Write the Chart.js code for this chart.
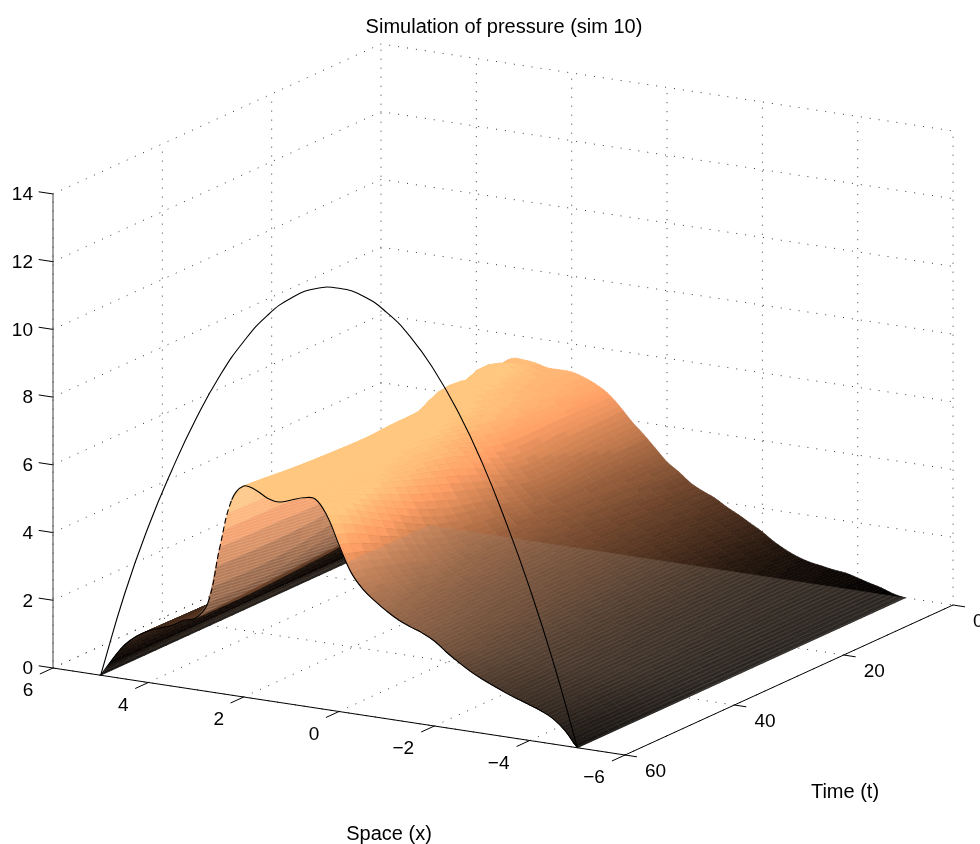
<!DOCTYPE html>
<html>
<head>
<meta charset="utf-8">
<title>Simulation of pressure</title>
<script src="https://cdn.jsdelivr.net/npm/chart.js@4"></script>
<style>
  html, body { margin: 0; padding: 0; background: #fff; overflow: hidden; }
  canvas { display: block; }
</style>
</head>
<body>
<canvas id="pressureChart" width="980" height="844"></canvas>
<script>
// Axis ticks
const spaceTicks = [6, 4, 2, 0, -2, -4, -6];
const timeTicks = [0, 20, 40, 60];
const pressureTicks = [0, 2, 4, 6, 8, 10, 12, 14];

// Surface samples
const spaceValues = [5, 4.75, 4.5, 4.25, 4, 3.75, 3.5, 3.25, 3, 2.75, 2.5, 2.25, 2, 1.75, 1.5, 1.25, 1, 0.75, 0.5, 0.25, 0,
  -0.25, -0.5, -0.75, -1, -1.25, -1.5, -1.75, -2, -2.25, -2.5, -2.75, -3, -3.25, -3.5, -3.75, -4, -4.25, -4.5, -4.75, -5];
const pressureT0 = [0, 0.6, 1.2, 1.9, 2.9, 4.1, 5.0, 5.3, 5.31, 5.27, 5.18, 5.18, 5.17, 5.07, 4.92, 4.71, 4.38, 3.99, 3.66, 3.3, 2.94,
  2.7, 2.42, 2.24, 2.09, 1.88, 1.7, 1.5, 1.3, 1.06, 0.87, 0.72, 0.62, 0.56, 0.5, 0.46, 0.37, 0.27, 0.18, 0.06, 0];
const pressureT10 = [0, 0.55, 1.1, 1.65, 2.3, 3.1, 4.0, 4.9, 5.5, 5.85, 5.7, 5.4, 5.25, 5.2, 5.05, 4.77, 4.37, 3.97, 3.63, 3.3, 3.0,
  2.78, 2.53, 2.35, 2.2, 2.01, 1.85, 1.66, 1.47, 1.25, 1.05, 0.9, 0.77, 0.69, 0.61, 0.55, 0.46, 0.35, 0.24, 0.09, 0];
const pressureT20 = [0, 0.5, 1.0, 1.4, 1.72, 2.0, 2.3, 2.8, 3.6, 4.9, 5.95, 5.85, 5.7, 5.5, 5.25, 4.85, 4.35, 3.95, 3.6, 3.3, 3.05,
  2.85, 2.65, 2.47, 2.32, 2.15, 2.0, 1.82, 1.65, 1.45, 1.25, 1.08, 0.93, 0.82, 0.72, 0.65, 0.55, 0.43, 0.3, 0.13, 0];
const pressureT30 = [0, 0.48, 0.95, 1.32, 1.6, 1.8, 1.95, 2.15, 2.5, 3.3, 4.8, 5.8, 5.9, 5.75, 5.55, 5.35, 5.1, 4.6, 4.05, 3.62, 3.27,
  3.02, 2.8, 2.62, 2.46, 2.31, 2.17, 2.0, 1.84, 1.64, 1.44, 1.26, 1.1, 0.98, 0.88, 0.79, 0.69, 0.57, 0.42, 0.2, 0];
const pressureT40 = [0, 0.45, 0.9, 1.25, 1.5, 1.68, 1.82, 2.0, 2.25, 2.9, 4.3, 5.6, 6.0, 5.9, 5.7, 5.55, 5.45, 5.2, 4.6, 4.0, 3.5,
  3.2, 2.97, 2.78, 2.62, 2.48, 2.35, 2.2, 2.05, 1.85, 1.65, 1.47, 1.3, 1.17, 1.05, 0.95, 0.84, 0.72, 0.55, 0.3, 0];
const pressureT50 = [0, 0.5, 0.95, 1.28, 1.5, 1.68, 1.85, 2.0, 2.12, 2.62, 4.3, 5.7, 6.08, 6.05, 5.85, 5.72, 5.75, 5.78, 5.4, 4.85, 4.2,
  3.7, 3.35, 3.08, 2.87, 2.68, 2.55, 2.42, 2.26, 2.03, 1.82, 1.62, 1.44, 1.3, 1.17, 1.05, 0.94, 0.82, 0.64, 0.37, 0];
const pressureT60 = [0, 0.53, 1.0, 1.31, 1.52, 1.66, 1.8, 2.0, 2.12, 2.62, 4.32, 5.77, 6.23, 6.17, 5.98, 5.92, 6.03, 6.15, 6.17, 5.72, 4.92,
  4.17, 3.72, 3.43, 3.18, 2.97, 2.82, 2.69, 2.51, 2.24, 2.0, 1.78, 1.6, 1.45, 1.3, 1.17, 1.05, 0.92, 0.74, 0.44, 0];
const surfaceTimes = [0, 10, 20, 30, 40, 50, 60];
const surfaceRows = [pressureT0, pressureT10, pressureT20, pressureT30, pressureT40, pressureT50, pressureT60];

// Big arch at t=60
const archSpace = [5, 4.5, 4, 3.5, 3, 2.5, 2, 1.5, 1, 0.5, 0, -0.5, -1, -1.5, -2, -2.5, -3, -3.5, -4, -4.5, -5];
const archPressure = [0, 2.5, 4.6, 6.4, 8.0, 9.38, 10.5, 11.38, 12.0, 12.38, 12.5, 12.38, 12.0, 11.38, 10.5, 9.38, 8.0, 6.35, 4.5, 2.4, 0];

// Projection of (space, time, pressure) on the page
const view = { x0: 53, y0: 668, spaceX: 47.67, spaceY: 7.25, timeX: 5.467, timeY: -2.5, zY: 33.86 };
function project(x, t, z) {
  return {
    x: view.x0 + (6 - x) * view.spaceX + (60 - t) * view.timeX,
    y: view.y0 + (6 - x) * view.spaceY + (60 - t) * view.timeY - z * view.zY
  };
}

function lineOf(points, extra) {
  return Object.assign({ data: points, showLine: true, pointRadius: 0, borderColor: '#000', borderWidth: 1, tension: 0 }, extra);
}

const dotted = { label: 'grid', borderColor: '#222', borderWidth: 0.9, borderDash: [1, 8] };
const datasets = [];

// Curves on top of the surface
datasets.push(lineOf(archSpace.map((x, i) => project(x, 60, archPressure[i])), { label: 'arch', tension: 0.5, borderWidth: 1.1 }));
datasets.push(lineOf(spaceValues.map((x, i) => project(x, 60, pressureT60[i])), {
  label: 'front',
  tension: 0.4,
  borderWidth: 1.1,
  segment: { borderDash: ctx => (ctx.p0DataIndex >= 9 && ctx.p0DataIndex < 11 ? [6, 3] : undefined) }
}));

// Axis lines and tick marks
datasets.push(lineOf([project(6, 60, 0), project(-6, 60, 0), project(-6, 0, 0)], { label: 'axes' }));
datasets.push(lineOf([project(6, 60, 0), project(6, 60, 14)], { label: 'z axis', borderColor: '#444' }));
spaceTicks.forEach(x => datasets.push(lineOf([project(x, 60, 0), project(x, 62.4, 0)], { label: 'x tick' })));
timeTicks.forEach(t => datasets.push(lineOf([project(-6, t, 0), project(-6.25, t, 0)], { label: 't tick' })));
pressureTicks.forEach(z => datasets.push(lineOf([project(6, 60, z), project(6.3, 60, z)], { label: 'z tick' })));

// Dotted grid on the floor and the two back walls
spaceTicks.forEach(x => {
  datasets.push(lineOf([project(x, 60, 0), project(x, 0, 0), project(x, 0, 14)], dotted));
});
timeTicks.forEach(t => {
  if (t > 0) datasets.push(lineOf([project(-6, t, 0), project(6, t, 0), project(6, t, 14)], dotted));
});
pressureTicks.forEach(z => {
  datasets.push(lineOf([project(6, 60, z), project(6, 0, z), project(-6, 0, z)], dotted));
});

function copper(v) {
  v = Math.max(0, Math.min(1, v));
  v = Math.round(v * 48) / 48;
  return [Math.min(255, 318 * v), 199 * v, 127 * v];
}
function rgba(c, a) {
  return 'rgba(' + Math.round(c[0]) + ',' + Math.round(c[1]) + ',' + Math.round(c[2]) + ',' + a + ')';
}

// Smooth curve through four samples, so the cells between samples get no facets
function spline(a, b, c, d, u) {
  return 0.5 * (2 * b + (c - a) * u + (2 * a - 5 * b + 4 * c - d) * u * u + (3 * b - a - 3 * c + d) * u * u * u);
}
function pick(list, i) {
  return list[Math.max(0, Math.min(list.length - 1, i))];
}
function surfaceHeight(rowPos, colPos) {
  const c = Math.min(Math.floor(colPos), spaceValues.length - 2);
  const r = Math.min(Math.floor(rowPos), surfaceRows.length - 2);
  const alongCol = [r - 1, r, r + 1, r + 2].map(i => {
    const row = pick(surfaceRows, i);
    return spline(pick(row, c - 1), pick(row, c), pick(row, c + 1), pick(row, c + 2), colPos - c);
  });
  return Math.max(0, spline(alongCol[0], alongCol[1], alongCol[2], alongCol[3], rowPos - r));
}

// Draws the surface and the dense mesh through the chart's scales
const surfacePlugin = {
  id: 'surface',
  beforeDatasetDraw(chart, args) {
    if (chart.data.datasets[args.index].label !== 'front') return;
    const ctx = chart.ctx;
    const toPx = p => [chart.scales.x.getPixelForValue(p.x), chart.scales.y.getPixelForValue(p.y)];
    const px = (x, t, z) => toPx(project(x, t, z));
    const tracePolygon = points => {
      points.forEach((p, i) => (i ? ctx.lineTo(p[0], p[1]) : ctx.moveTo(p[0], p[1])));
      ctx.closePath();
    };
    const frontPoint = i => px(spaceValues[i], 60, pressureT60[i]);
    ctx.save();
    ctx.lineJoin = 'round';

    // Solid sheet coloured by height, back to front
    const colSteps = 3;
    const rowSteps = 5;
    const nCols = (spaceValues.length - 1) * colSteps;
    const nRows = (surfaceRows.length - 1) * rowSteps;
    const heights = [];
    for (let r = 0; r <= nRows; r++) {
      heights.push([]);
      for (let c = 0; c <= nCols; c++) heights[r].push(surfaceHeight(r / rowSteps, c / colSteps));
    }
    const spaceAt = c => spaceValues[0] + (c / nCols) * (spaceValues[spaceValues.length - 1] - spaceValues[0]);
    const timeAt = r => surfaceTimes[0] + (r / nRows) * (surfaceTimes[surfaceTimes.length - 1] - surfaceTimes[0]);
    for (let r = 0; r < nRows; r++) {
      for (let c = 0; c < nCols; c++) {
        const z = (heights[r][c] + heights[r][c + 1] + heights[r + 1][c] + heights[r + 1][c + 1]) / 4;
        const color = rgba(copper(Math.pow(z / 5.6, 1.25)), 1);
        ctx.fillStyle = color;
        ctx.strokeStyle = color;
        ctx.lineWidth = 0.7;
        ctx.beginPath();
        tracePolygon([
          px(spaceAt(c), timeAt(r), heights[r][c]),
          px(spaceAt(c + 1), timeAt(r), heights[r][c + 1]),
          px(spaceAt(c + 1), timeAt(r + 1), heights[r + 1][c + 1]),
          px(spaceAt(c), timeAt(r + 1), heights[r + 1][c])
        ]);
        ctx.fill();
        ctx.stroke();
      }
    }

    // Grey mesh over the lower part and the strip along x=5
    ctx.save();
    ctx.beginPath();
    const lowerPart = [px(5, 15, 0), px(5, 0, 0), px(-5, 0, 0), px(-5, 60, 0)];
    for (let i = spaceValues.length - 1; i >= 20; i--) lowerPart.push(frontPoint(i));
    tracePolygon(lowerPart);
    const strip = [];
    for (let i = 0; i <= 5; i++) strip.push(frontPoint(i));
    strip.push(px(5, 41, 0.25), px(5, 15, 0.25), px(5, 15, 0));
    tracePolygon(strip);
    ctx.clip();
    ctx.lineWidth = 0.8;
    for (let t = 0; t <= 60; t += 0.4) {
      const shade = 70 + 62 * Math.min(1, (60 - t) / 25);
      const a = px(5.2, t, 0);
      const b = px(-5.2, t, 0);
      const fade = ctx.createLinearGradient(a[0], a[1], b[0], b[1]);
      fade.addColorStop(0.1, rgba([shade + 30, (shade + 30) * 0.85, (shade + 30) * 0.72], 0.42));
      fade.addColorStop(0.7, rgba([shade, shade * 0.9, shade * 0.8], 0.62));
      ctx.strokeStyle = fade;
      ctx.beginPath();
      ctx.moveTo(a[0], a[1]);
      ctx.lineTo(b[0], b[1]);
      ctx.stroke();
    }
    ctx.restore();

    // Pale mesh inside the hump, up to the chord under it
    ctx.save();
    ctx.beginPath();
    const hump = [];
    for (let i = 8; i <= 20; i++) hump.push(frontPoint(i));
    tracePolygon(hump);
    ctx.clip();
    ctx.lineWidth = 0.8;
    ctx.strokeStyle = 'rgba(245,220,200,0.42)';
    for (let z = 0; z <= 7; z += 0.045) {
      const a = px(5, 60, z);
      const b = px(-1, 60, z);
      ctx.beginPath();
      ctx.moveTo(a[0], a[1]);
      ctx.lineTo(b[0], b[1]);
      ctx.stroke();
    }
    ctx.restore();
    ctx.restore();
  },
  afterDraw(chart) {
    const ctx = chart.ctx;
    const sx = chart.scales.x;
    const sy = chart.scales.y;
    const put = (text, p, dx, dy, align) => {
      ctx.textAlign = align;
      ctx.fillText(text, sx.getPixelForValue(p.x) + dx, sy.getPixelForValue(p.y) + dy);
    };
    const tickText = v => String(v).replace('-', '\u2212');
    ctx.save();
    ctx.fillStyle = '#000';
    ctx.font = '19px "Liberation Sans", Arial, sans-serif';
    ctx.textBaseline = 'middle';
    spaceTicks.forEach(x => put(tickText(x), project(x, 60, 0), x < 0 ? -31 : -25, 23, 'center'));
    timeTicks.forEach(t => put(tickText(t), project(-6, t, 0), 20, 17, 'left'));
    pressureTicks.forEach(z => put(tickText(z), project(6, 60, z), -20, 1, 'right'));
    // Axis names
    ctx.font = '20px "Liberation Sans", Arial, sans-serif';
    ctx.textAlign = 'center';
    ctx.fillText('Time (t)', 845, 792);
    ctx.fillText('Space (x)', 389, 834);
    ctx.restore();
  }
};

const titleFontSize = 20;
const titlePadding = { top: 15, bottom: 0 };

new Chart(document.getElementById('pressureChart').getContext('2d'), {
  type: 'scatter',
  data: { datasets: datasets },
  plugins: [surfacePlugin],
  options: {
    responsive: false,
    animation: false,
    layout: { padding: { left: 28 } },
    scales: {
      x: { type: 'linear', display: false, min: 28, max: 980 },
      y: { type: 'linear', display: false, reverse: true, min: titleFontSize * 1.2 + titlePadding.top + titlePadding.bottom, max: 844 }
    },
    plugins: {
      legend: { display: false },
      tooltip: { enabled: false },
      title: {
        display: true,
        fullSize: false,
        text: 'Simulation of pressure (sim 10)',
        color: '#000',
        padding: titlePadding,
        font: { family: '"Liberation Sans", Arial, sans-serif', size: titleFontSize, weight: 'normal' }
      }
    }
  }
});
</script>
</body>
</html>
